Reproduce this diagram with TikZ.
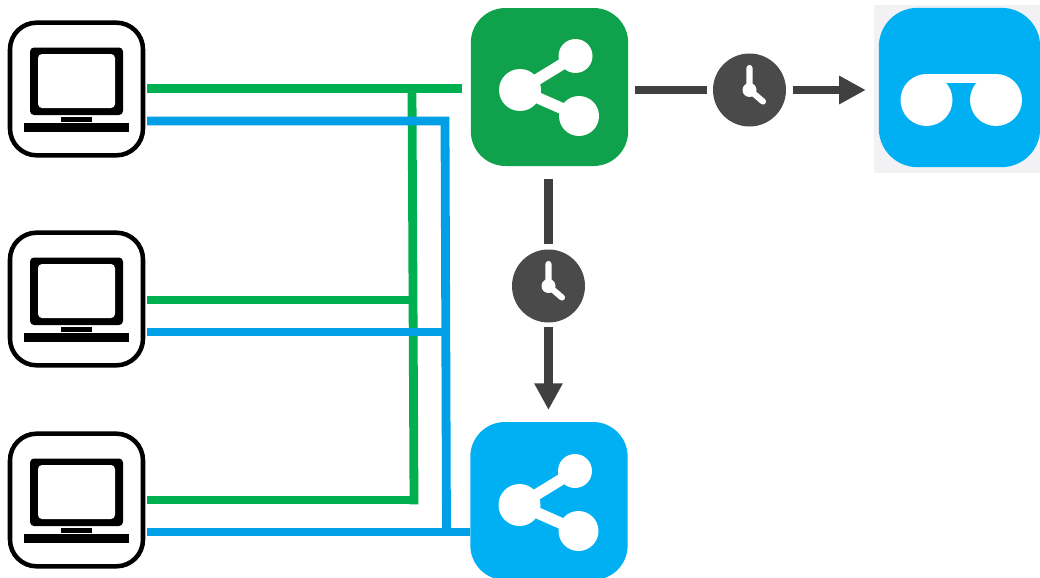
\documentclass[tikz,border=0pt]{standalone}
\usetikzlibrary{arrows.meta,calc}
\definecolor{tilegreen}{HTML}{0FA14B}
\definecolor{tileblue}{HTML}{00B0F2}
\definecolor{wiregreen}{HTML}{00B050}
\definecolor{wireblue}{HTML}{009FE6}
\definecolor{darkline}{HTML}{404040}
\definecolor{clockgrey}{HTML}{4A4A4A}
\definecolor{paleback}{HTML}{F2F2F5}
\tikzset{
  lapbox/.style={draw=black,fill=white,line width=3.4pt,rounded corners=20pt,minimum width=99.75pt,minimum height=99.5pt,outer sep=0pt,inner sep=0pt},
  sharebox/.style={rounded corners=26pt,minimum width=118pt,minimum height=118.5pt,outer sep=0pt,inner sep=0pt},
  glassbox/.style={fill=tileblue,rounded corners=29pt,minimum width=121pt,minimum height=119.5pt,outer sep=0pt,inner sep=0pt},
  clocknode/.style={circle,fill=clockgrey,minimum size=54.75pt,outer sep=0pt,inner sep=0pt},
  gwire/.style={draw=wiregreen,line width=6.6pt},
  bwire/.style={draw=wireblue,line width=6.6pt},
  dwire/.style={draw=darkline,line width=6.6pt},
  dhead/.style={-{Triangle[length=20pt,width=20pt]}},
  hand/.style={draw=white,line width=4.6pt,line cap=round},
  laptopicon/.pic={
    \fill[black,rounded corners=3pt] (-46.5,-41.5) rectangle (46.5,26);
    \fill[white,rounded corners=3pt] (-38.5,-35) rectangle (38.5,19);
    \fill[black] (-15.5,27.5) rectangle (15.5,33);
    \fill[black] (-52.5,34) rectangle (52.5,42.5);
  },
  shareicon/.pic={
    \draw[white,line width=8.5pt] (26,-31) -- (-29.5,3) -- (29.5,29);
    \fill[white] (-29.5,3) circle[radius=21];
    \fill[white] (26,-31) circle[radius=17];
    \fill[white] (29.5,29) circle[radius=20];
  },
  clockicon/.pic={
    \draw[hand] (0,-22) -- (0,0) -- (13.5,11.5);
    \fill[white] (0,0) circle[radius=7];
  }
}
\begin{document}
\begin{tikzpicture}[x=0.75pt,y=-0.75pt]
\path[use as bounding box,clip] (0,0) rectangle (1040,578);
% laptops
\node[lapbox] (lap1) at (76.5,89) {};
\node[lapbox] (lap2) at (76.5,299) {};
\node[lapbox] (lap3) at (76.5,500) {};
\path (lap1.center) pic {laptopicon};
\path (lap2.center) pic {laptopicon};
\path (lap3.center) pic {laptopicon};
% share tiles
\node[sharebox,fill=tilegreen] (gs) at (549.5,87) {};
\node[sharebox,fill=tileblue] (bs) at (549,501) {};
\path (gs.center) pic {shareicon};
\path (549,502) pic {shareicon};
% glasses tile
\fill[paleback] (874,5) rectangle (1040,173);
\node[glassbox] (gl) at (959.5,87.5) {};
\fill[white] (926.5,100) circle[radius=26];
\fill[white] (996,100) circle[radius=26];
\fill[white] (926.5,74) rectangle (996,83);
% clocks
\node[clocknode] (c1) at (749.5,90) {};
\node[clocknode] (c2) at (548.5,286) {};
\path (c1.center) pic {clockicon};
\path (c2.center) pic {clockicon};
% junctions on the wires
\coordinate (gtop) at (412,88.5);
\coordinate (gmid) at (413,300);
\coordinate (gbot) at (414,500);
\coordinate (btop) at (445,121);
\coordinate (bmid) at (446,332);
\coordinate (bbot) at (446.5,532);
% green wires
\draw[gwire,shorten >=6.75pt,shorten <=3pt] (lap1.east |- gtop) -- (gs.west |- gtop);
\draw[gwire,line cap=rect] (gtop) -- (gbot);
\draw[gwire,shorten <=3pt] (lap2.east |- gmid) -- (gmid);
\draw[gwire,shorten <=3pt] (lap3.east |- gbot) -- (gbot);
% blue wires
\draw[bwire,shorten <=3pt,line join=miter] (lap1.east |- btop) -- (btop) -- (bbot);
\draw[bwire,shorten <=3pt] (lap2.east |- bmid) -- (bmid);
\draw[bwire,shorten <=3pt] (lap3.east |- bbot) -- (bs.west |- bbot);
% dark arrows
\draw[dwire,shorten <=5.25pt,shorten >=4.5pt] (gs.east |- c1.center) -- (c1.west);
\draw[dwire,dhead,shorten <=5.25pt,shorten >=9.75pt] (c1.east) -- (gl.west |- c1.east);
\draw[dwire,shorten <=9.75pt,shorten >=4pt] (gs.south -| c2.center) -- (c2.north);
\draw[dwire,dhead,shorten <=3.5pt,shorten >=9pt] (c2.south) -- (bs.north -| c2.south);
\end{tikzpicture}
\end{document}
